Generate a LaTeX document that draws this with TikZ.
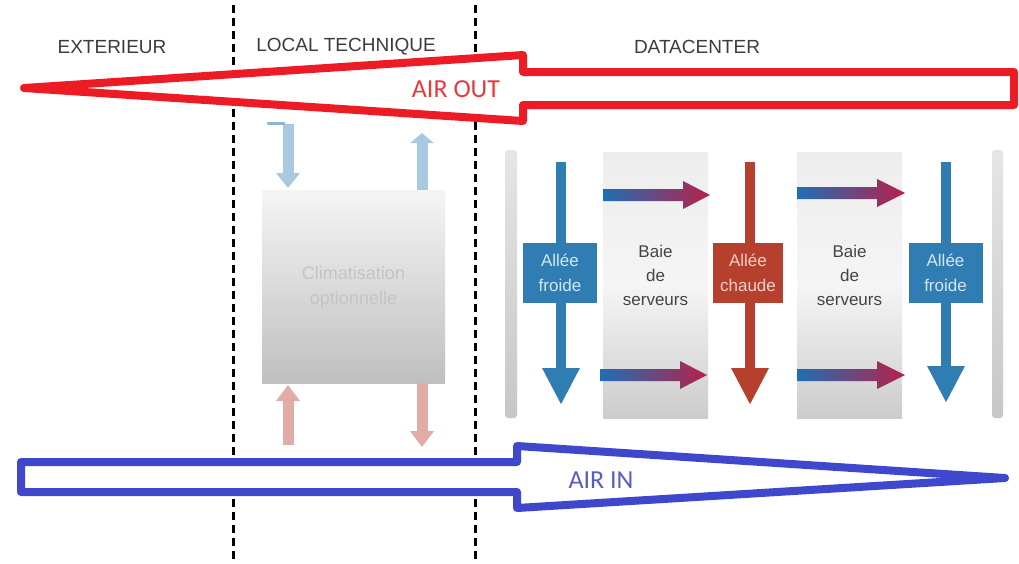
\documentclass[tikz,border=0pt]{standalone}
\usepackage{fontspec}
\setmainfont{Liberation Sans}
\newfontfamily\calib{Carlito}
\usetikzlibrary{arrows.meta}
\definecolor{airred}{HTML}{ED1C24}
\definecolor{airblue}{HTML}{3F48CC}
\definecolor{airredtxt}{HTML}{E8383D}
\definecolor{airbluetxt}{HTML}{5A5AD0}
\definecolor{headgray}{HTML}{3C3C3C}
\definecolor{ltblue}{HTML}{A8C9DF}
\definecolor{midblue}{HTML}{8FB4D0}
\definecolor{ltred}{HTML}{E2ACA6}
\definecolor{coldblue}{HTML}{2F7DB3}
\definecolor{coldtxt}{HTML}{D2E6F3}
\definecolor{hotred}{HTML}{B5402D}
\definecolor{hottxt}{HTML}{F3CFC8}
\definecolor{gblue}{HTML}{1E6FB5}
\definecolor{gred}{HTML}{B8204A}
\definecolor{racktxt}{HTML}{444444}
\definecolor{climtxt}{HTML}{C4C4C4}
\begin{document}
\begin{tikzpicture}[x=1pt,y=-1pt,
  heading/.style={text=headgray,font=\fontsize{19}{22}\selectfont,inner sep=0},
  sepline/.style={black,line width=3pt,dash pattern=on 8pt off 5pt},
  bigout/.style={draw=airred,fill=white,line width=8pt,line join=round},
  bigin/.style={draw=airblue,fill=white,line width=8pt,line join=round},
  smallblue/.style={draw=ltblue,line width=11pt,-{Triangle[width=23pt,length=15pt]}},
  smallred/.style={draw=ltred,line width=11pt,-{Triangle[width=23pt,length=16pt]}},
  coldarr/.style={draw=coldblue,line width=10pt,-{Triangle[width=35pt,length=37pt]}},
  hotarr/.style={draw=hotred,line width=10pt,-{Triangle[width=35pt,length=37pt]}},
  aislebox/.style={minimum width=74pt,minimum height=60pt,inner sep=0,align=center,font=\fontsize{17}{25}\selectfont},
  coldbox/.style={aislebox,fill=coldblue,text=coldtxt},
  hotbox/.style={aislebox,fill=hotred,text=hottxt},
  racklabel/.style={text=racktxt,align=center,inner sep=0,font=\fontsize{17}{24}\selectfont},
  rackfill/.style={top color=black!7,bottom color=black!20,middle color=black!4},
  barfill/.style={top color=black!10,bottom color=black!22,rounded corners=3pt},
  gradarrow/.style={left color=gblue,right color=gred}
]
\useasboundingbox (0,0) rectangle (1019,563);
\fill[white] (0,0) rectangle (1019,563);

% separators
\coordinate (s1t) at (233,5); \coordinate (s1b) at (233,563);
\coordinate (s2t) at (475,5); \coordinate (s2b) at (475,563);
\draw[sepline] (s1t) -- (s1b);
\draw[sepline] (s2t) -- (s2b);

% headings
\node[heading] (hext) at (112,47) {EXTERIEUR};
\node[heading] (hloc) at (346,47) {LOCAL TECHNIQUE};
\node[heading] (hdc) at (697,47) {DATACENTER};

% local technique: climatisation
\shade[top color=black!4,bottom color=black!25] (262,190) rectangle (445,383);
\node[text=climtxt,align=center,inner sep=0,font=\fontsize{18}{25}\selectfont] (clim) at (353.5,287) {Climatisation\\optionnelle};
\coordinate (lb1s) at (288,124); \coordinate (lb1e) at (288,188);
\coordinate (lb2s) at (422,190); \coordinate (lb2e) at (422,133);
\coordinate (lr1s) at (288,445); \coordinate (lr1e) at (288,385);
\coordinate (lr2s) at (422,383); \coordinate (lr2e) at (422,447);
\coordinate (tick) at (268,123);
\draw[smallblue] (lb1s) -- (lb1e);
\draw[midblue,line width=3pt,line cap=round] (tick) -- (284,123);

\draw[smallblue,-{Triangle[width=23pt,length=10pt]}] (lb2s) -- (lb2e);
\draw[smallred] (lr1s) -- (lr1e);
\draw[smallred] (lr2s) -- (lr2e);

% datacenter: side bars
\shade[barfill] (505,150) rectangle (517,418);
\shade[barfill] (992,150) rectangle (1003,418);

% racks
\shade[rackfill] (603,152) rectangle (708,418);
\shade[rackfill] (797,152) rectangle (902,418);
\node[racklabel] (rack1) at (655.5,275) {Baie\\de\\serveurs};
\node[racklabel] (rack2) at (849.5,275) {Baie\\de\\serveurs};

% gradient arrows through racks
\shade[gradarrow,shift={(603,195)}] (0,-6) -- (80,-6) -- (80,-14) -- (107,0) -- (80,14) -- (80,6) -- (0,6) -- cycle;
\shade[gradarrow,shift={(600,375)}] (0,-6) -- (80,-6) -- (80,-14) -- (107,0) -- (80,14) -- (80,6) -- (0,6) -- cycle;
\shade[gradarrow,shift={(797,193)}] (0,-6) -- (80,-6) -- (80,-14) -- (108,0) -- (80,14) -- (80,6) -- (0,6) -- cycle;
\shade[gradarrow,shift={(797,375)}] (0,-6) -- (80,-6) -- (80,-14) -- (108,0) -- (80,14) -- (80,6) -- (0,6) -- cycle;

% aisles
\coordinate (c1t) at (561,162); \coordinate (c1b) at (561,405);
\coordinate (h1t) at (750,162); \coordinate (h1b) at (750,405);
\coordinate (c2t) at (946,162); \coordinate (c2b) at (946,403);
\draw[coldarr] (c1t) -- (c1b);
\draw[hotarr] (h1t) -- (h1b);
\draw[coldarr] (c2t) -- (c2b);
\node[coldbox] (cold1) at (560,273) {Allée\\froide};
\node[hotbox,minimum width=70pt] (hot1) at (748,273) {Allée\\chaude};
\node[coldbox] (cold2) at (945.5,273) {Allée\\froide};

% big arrows
\draw[bigout] (1014,72) -- (523,72) -- (523,55) -- (24,88) -- (523,121) -- (523,105) -- (1014,105) -- cycle;
\node[text=airredtxt,font=\calib\fontsize{26}{28}\selectfont,inner sep=0] (airout) at (456,89) {AIR OUT};
\draw[bigin] (21,462) -- (517,462) -- (517,446) -- (1005,478) -- (517,508) -- (517,492) -- (21,492) -- cycle;
\node[text=airbluetxt,font=\calib\fontsize{26}{28}\selectfont,inner sep=0] (airin) at (601,480) {AIR IN};
\end{tikzpicture}
\end{document}
